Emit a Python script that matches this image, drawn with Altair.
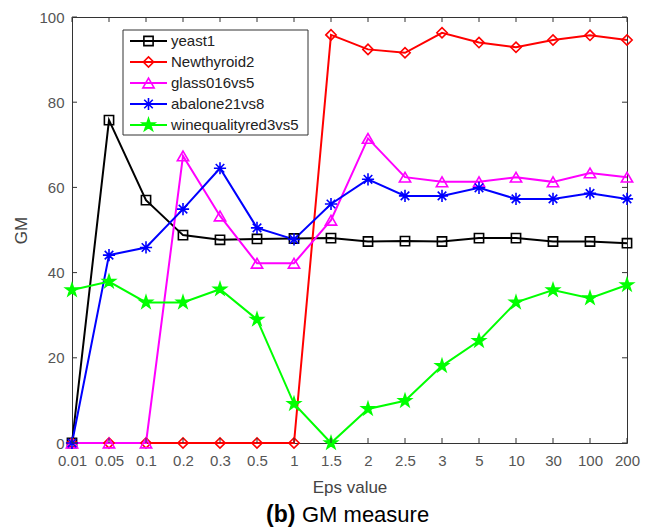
import altair as alt
import pandas as pd

eps = ["0.01", "0.05", "0.1", "0.2", "0.3", "0.5", "1", "1.5", "2", "2.5", "3", "5", "10", "30", "100", "200"]
series = ["yeast1", "Newthyroid2", "glass016vs5", "abalone21vs8", "winequalityred3vs5"]
yeast1 = [0, 75.8, 57.0, 48.8, 47.7, 47.9, 48.0, 48.1, 47.3, 47.4, 47.3, 48.1, 48.1, 47.3, 47.3, 46.9]
newthyroid2 = [0, 0, 0, 0, 0, 0, 0, 95.8, 92.4, 91.6, 96.3, 94.0, 92.9, 94.6, 95.7, 94.6]
glass016vs5 = [0, 0, 0, 67.4, 53.3, 42.2, 42.2, 52.3, 71.5, 62.4, 61.3, 61.3, 62.4, 61.3, 63.4, 62.4]
abalone21vs8 = [0, 44.1, 45.9, 54.9, 64.5, 50.5, 47.8, 56.1, 61.9, 58.0, 58.0, 59.9, 57.3, 57.3, 58.6, 57.3]
winequalityred3vs5 = [35.9, 37.9, 33.0, 33.0, 36.1, 29.0, 9.2, 0, 8.0, 9.9, 18.1, 24.0, 33.0, 35.9, 34.0, 37.1]
y_ticks = [0, 20, 40, 60, 80, 100]

colors = ["#000000", "#ff0000", "#ff00ff", "#0000ff", "#00ff00"]
asterisk = "M-1,0L1,0M0,-1L0,1M-0.7,-0.7L0.7,0.7M-0.7,0.7L0.7,-0.7"
pentagram = ("M0,-1L0.225,-0.309L0.951,-0.309L0.363,0.118L0.588,0.809L0,0.382"
             "L-0.588,0.809L-0.363,0.118L-0.951,-0.309L-0.225,-0.309Z")
shapes = ["square", "diamond", "triangle-up", asterisk, pentagram]
sizes = [85, 170, 140, 110, 230]
fills = ["transparent", "transparent", "transparent", "transparent", "#00ff00"]

FONT = "Liberation Sans"
W, H = 555, 426

rows = []
for s, vals in zip(series, [yeast1, newthyroid2, glass016vs5, abalone21vs8, winequalityred3vs5]):
    for i, (e, v) in enumerate(zip(eps, vals)):
        rows.append({"series": s, "eps": e, "gm": v, "idx": i})
df = pd.DataFrame(rows)

color_scale = alt.Scale(domain=series, range=colors)
shape_scale = alt.Scale(domain=series, range=shapes)
size_scale = alt.Scale(domain=series, range=sizes)
fill_scale = alt.Scale(domain=series, range=fills)
y_scale = alt.Scale(domain=[0, 100], nice=False)
x_scale = alt.Scale(type="point", domain=eps, padding=0)

x_axis = alt.Axis(
    title="Eps value", labelAngle=0, ticks=False, domain=False, grid=False,
    labelFontSize=15, labelColor="#555555", labelPadding=10, labelFont=FONT,
    titleFontSize=17, titleFontWeight="normal", titleColor="#444444", titleFont=FONT,
    titleY=44, titleBaseline="middle")
x_main = alt.X("eps:O", sort=eps, scale=x_scale, axis=x_axis)
y_main = alt.Y("gm:Q", scale=y_scale, axis=alt.Axis(
    values=y_ticks, title="GM", ticks=False, domain=False, grid=False,
    labelFontSize=15, labelColor="#555555", labelPadding=8, labelFont=FONT,
    titleFontSize=17, titleFontWeight="normal", titleColor="#444444", titleFont=FONT,
    titleX=-51, titleY=213, titleAngle=270, titleBaseline="middle", titleAlign="center"))

col = alt.Color("series:N", scale=color_scale, legend=None)
shp = alt.Shape("series:N", scale=shape_scale, legend=None)
siz = alt.Size("series:N", scale=size_scale, legend=None)
fil = alt.Fill("series:N", scale=fill_scale, legend=None)

lines = alt.Chart(df).mark_line(strokeWidth=2).encode(
    x=x_main, y=y_main, color=col, order="idx:Q")
points = alt.Chart(df).mark_point(strokeWidth=1.6, opacity=1).encode(
    x=x_main, y=alt.Y("gm:Q", scale=y_scale, axis=None),
    color=col, shape=shp, size=siz, fill=fil)

xt = pd.DataFrame({"eps": eps})
yt = pd.DataFrame({"t": y_ticks})
yt_enc = alt.Y("t:Q", scale=y_scale, axis=None)
tick_col = "#333333"
ticks_bottom = alt.Chart(xt).mark_rule(color=tick_col, strokeWidth=1).encode(
    x=x_main, y=alt.value(H), y2=alt.value(H - 5))
ticks_top = alt.Chart(xt).mark_rule(color=tick_col, strokeWidth=1).encode(
    x=x_main, y=alt.value(0), y2=alt.value(5))
ticks_left = alt.Chart(yt).mark_rule(color=tick_col, strokeWidth=1).encode(
    y=yt_enc, x=alt.value(0), x2=alt.value(5))
ticks_right = alt.Chart(yt).mark_rule(color=tick_col, strokeWidth=1).encode(
    y=yt_enc, x=alt.value(W), x2=alt.value(W - 5))

one = pd.DataFrame({"a": [0]})
leg = pd.DataFrame({"series": series})
ly = alt.Y("series:N", scale=alt.Scale(type="point", domain=series, range=[24, 108], padding=0), axis=None)

leg_box = alt.Chart(one).mark_rect(fill="white", stroke="#333333", strokeWidth=1).encode(
    x=alt.value(51), x2=alt.value(236), y=alt.value(13), y2=alt.value(118))
leg_lines = alt.Chart(leg).mark_rule(strokeWidth=2).encode(
    y=ly, x=alt.value(58), x2=alt.value(95), color=col)
leg_points = alt.Chart(leg).mark_point(strokeWidth=1.6, opacity=1).encode(
    y=ly, x=alt.value(76.5), color=col, shape=shp, size=siz, fill=fil)
leg_text = alt.Chart(leg).mark_text(align="left", baseline="middle", fontSize=15,
                                     font=FONT, color="#222222").encode(
    y=ly, x=alt.value(99), text="series:N")

title_b = alt.Chart(one).mark_text(text="(b)", align="left", baseline="alphabetic",
                                   fontSize=23, fontWeight="bold", font=FONT, color="#000000").encode(
    x=alt.value(194), y=alt.value(505))
title_rest = alt.Chart(one).mark_text(text="GM measure", align="left", baseline="alphabetic",
                                      fontSize=22, font=FONT, color="#000000").encode(
    x=alt.value(230), y=alt.value(505))

chart = alt.layer(
    lines, points, ticks_bottom, ticks_top, ticks_left, ticks_right,
    leg_box, leg_lines, leg_points, leg_text, title_b, title_rest
).resolve_scale(y="independent").properties(
    width=W, height=H,
    autosize=alt.AutoSizeParams(type="none"),
    padding={"left": 72, "top": 17, "right": 25, "bottom": 85},
    background="white"
).configure_view(stroke="#333333", strokeWidth=1)

chart.save("out.html", embed_options={"renderer": "svg", "actions": False})
